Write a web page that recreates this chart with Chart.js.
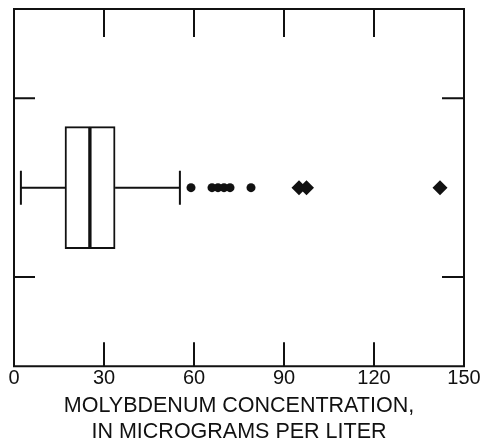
<!DOCTYPE html>
<html>
<head>
<meta charset="utf-8">
<script src="https://cdn.jsdelivr.net/npm/chart.js@4.4.0/dist/chart.umd.min.js"></script>
<style>
  html, body { margin: 0; padding: 0; background: #fff; }
  #wrap { width: 481px; height: 445px; }
</style>
</head>
<body>
<div id="wrap"><canvas id="myChart"></canvas></div>
<script>
// box plot summary, micrograms per liter
var whiskerLow = [2.3];
var q1 = [17];
var median = [25.3];
var q3 = [33.7];
var whiskerHigh = [55.3];
var outliers = [59, 66, 68, 70, 72, 79];
var farOutliers = [95, 97.5, 142];

var xTicks = [0, 30, 60, 90, 120, 150];
var sideTicks = [-1, 1];
var axisTitle = ['MOLYBDENUM CONCENTRATION,', 'IN MICROGRAMS PER LITER'];

var ink = '#111';
var fontFamily = "'Liberation Sans', Arial, Helvetica, sans-serif";

// inward tick marks on all four sides + frame
var frameTicks = {
  id: 'frameTicks',
  afterDraw: function (chart) {
    var ctx = chart.ctx, a = chart.chartArea;
    var xs = chart.scales.x, ys = chart.scales.y;
    ctx.save();
    ctx.strokeStyle = ink;
    ctx.lineWidth = 2;
    ctx.strokeRect(a.left, a.top, a.right - a.left, a.bottom - a.top);
    xTicks.forEach(function (v) {
      var px = xs.getPixelForValue(v);
      ctx.beginPath();
      ctx.moveTo(px, a.bottom); ctx.lineTo(px, a.bottom - 24);
      ctx.moveTo(px, a.top); ctx.lineTo(px, a.top + 28);
      ctx.stroke();
    });
    sideTicks.forEach(function (v) {
      var py = ys.getPixelForValue(v);
      ctx.beginPath();
      ctx.moveTo(a.left, py); ctx.lineTo(a.left + 21, py);
      ctx.moveTo(a.right, py); ctx.lineTo(a.right - 22, py);
      ctx.stroke();
    });
    ctx.restore();
  }
};

function boxPart(lo, hi) {
  return {
    type: 'bar',
    indexAxis: 'y',
    data: [{ y: 0, x: [lo, hi] }],
    backgroundColor: '#fff',
    borderColor: ink,
    borderWidth: 2,
    borderSkipped: false,
    barThickness: 122,
    grouped: false
  };
}

function whisker(from, to) {
  return {
    type: 'scatter',
    data: [{ x: from, y: 0 }, { x: to, y: 0 }],
    showLine: true,
    borderColor: ink,
    borderWidth: 2,
    pointRadius: 0
  };
}

var ctx = document.getElementById('myChart').getContext('2d');
var myChart = new Chart(ctx, {
  type: 'scatter',
  data: {
    datasets: [
      whisker(whiskerLow[0], q1[0]),
      whisker(q3[0], whiskerHigh[0]),
      boxPart(q1[0], median[0]),
      boxPart(median[0], q3[0]),
      {
        // whisker caps
        data: [{ x: whiskerLow[0], y: 0 }, { x: whiskerHigh[0], y: 0 }],
        pointStyle: 'line',
        rotation: 90,
        radius: 17,
        borderColor: ink,
        borderWidth: 2
      },
      {
        data: outliers.map(function (v) { return { x: v, y: 0 }; }),
        pointStyle: 'circle',
        radius: 4.5,
        backgroundColor: ink,
        borderColor: ink,
        borderWidth: 0
      },
      {
        data: farOutliers.map(function (v) { return { x: v, y: 0 }; }),
        pointStyle: 'rectRot',
        radius: 7.5,
        backgroundColor: ink,
        borderColor: ink,
        borderWidth: 0
      }
    ]
  },
  options: {
    responsive: true,
    maintainAspectRatio: false,
    animation: false,
    layout: { autoPadding: false, padding: { left: 14, right: 17, top: 9, bottom: -1 } },
    plugins: { legend: { display: false }, tooltip: { enabled: false } },
    scales: {
      x: {
        type: 'linear',
        min: 0,
        max: 150,
        afterBuildTicks: function (axis) {
          axis.ticks = xTicks.map(function (v) { return { value: v }; });
        },
        grid: { display: false, drawTicks: false },
        border: { display: false },
        ticks: {
          color: ink,
          padding: 0,
          maxRotation: 0,
          font: { family: fontFamily, size: 20 }
        },
        title: {
          display: true,
          text: axisTitle,
          color: ink,
          padding: { top: 2, bottom: 0 },
          font: { family: fontFamily, size: 21.5, lineHeight: 1.25 }
        }
      },
      y: {
        type: 'linear',
        min: -2,
        max: 2,
        offset: false,
        display: false
      }
    }
  },
  plugins: [frameTicks]
});
</script>
</body>
</html>
